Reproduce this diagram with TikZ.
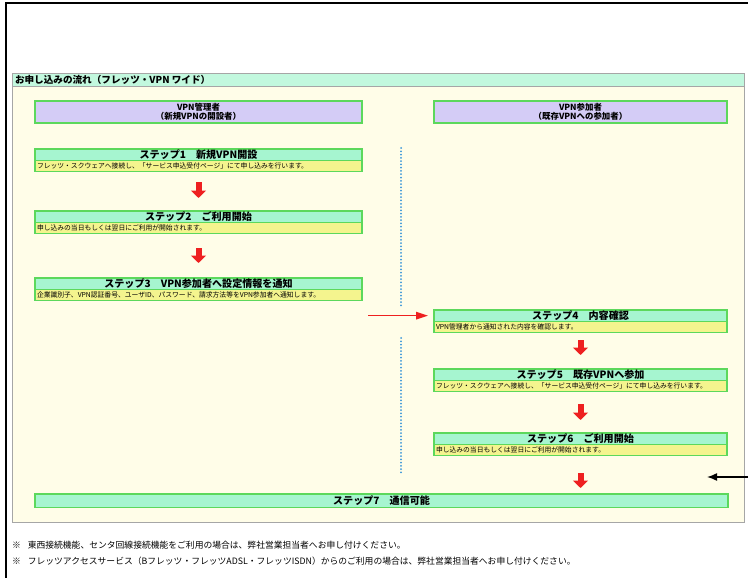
\documentclass[tikz,border=0pt]{standalone}
\usepackage{fontspec}
\setmainfont{Noto Sans CJK JP}
\usetikzlibrary{arrows.meta}
\usetikzlibrary{positioning}
\usetikzlibrary{calc}

\definecolor{mint}{HTML}{A6F5D0}
\definecolor{barmint}{HTML}{C2F8DE}
\definecolor{lemon}{HTML}{F4F48E}
\definecolor{cream}{HTML}{FFFDE8}
\definecolor{lilac}{HTML}{D4CCF6}
\definecolor{leaf}{HTML}{5CD85C}
\definecolor{flow}{HTML}{EE2020}
\definecolor{dotblue}{HTML}{3A96D8}

\begin{document}
\begin{tikzpicture}[x=0.3mm,y=-0.3mm,
  outer sep=0pt,
  head/.style={draw=leaf,line width=0.9pt,fill=lilac,minimum height=6.6mm,
    inner sep=0pt,align=center,font=\fontsize{7.2}{8}\selectfont\bfseries},
  lhead/.style={head,minimum width=98.1mm},
  rhead/.style={head,minimum width=87.9mm},
  stepbox/.style={draw=leaf,line width=0.9pt,fill=mint,minimum height=3.4mm,
    inner sep=0pt,font=\fontsize{8.6}{9}\selectfont\bfseries},
  descbox/.style={draw=leaf,line width=0.9pt,fill=lemon,minimum height=3.3mm,
    inner ysep=0pt,inner xsep=0.6mm,align=left,
    font=\fontsize{5.8}{6.4}\selectfont},
  lstep/.style={stepbox,minimum width=98.1mm},
  rstep/.style={stepbox,minimum width=87.9mm},
  ldesc/.style={descbox,text width=96.9mm},
  rdesc/.style={descbox,text width=86.7mm},
  fat/.style={flow,line width=1.8mm,-{Triangle[length=2.2mm,width=4.4mm]}},
  thin/.style={flow,line width=0.5mm,-{Triangle[length=3.6mm,width=2.2mm]}},
  note/.style={anchor=west,inner sep=0pt,font=\fontsize{7.5}{8}\selectfont}]

\useasboundingbox (0,0) rectangle (748,578);
\fill[white] (0,0) rectangle (748,578);
\draw[line width=0.6mm] (6,578) -- (6,3) -- (748,3);
\draw[gray!70,fill=cream] (12,86) rectangle (744,522);
\draw[gray!70,fill=barmint] (12,73) rectangle (744,86);
\node[anchor=west,inner sep=0pt,font=\fontsize{8.2}{9}\selectfont\bfseries]
  (flowtitle) at (15,79.5) {お申し込みの流れ（フレッツ・VPN ワイド）};

\node[lhead,anchor=north west] (adm) at (35,101) {VPN管理者\\（新規VPNの開設者）};
\node[rhead,anchor=north west] (par) at (434,101) {VPN参加者\\（既存VPNへの参加者）};

\node[lstep,anchor=north west] (s1) at (35,149) {ステップ1　新規VPN開設};
\node[ldesc,below=0pt of s1] (s1d) {フレッツ・スクウェアへ接続し、「サービス申込受付ページ」にて申し込みを行います。};
\node[lstep,anchor=north west] (s2) at (35,211) {ステップ2　ご利用開始};
\node[ldesc,below=0pt of s2] (s2d) {申し込みの当日もしくは翌日にご利用が開始されます。};
\node[lstep,anchor=north west] (s3) at (35,278) {ステップ3　VPN参加者へ設定情報を通知};
\node[ldesc,below=0pt of s3] (s3d) {企業識別子、VPN認証番号、ユーザID、パスワード、請求方法等をVPN参加者へ通知します。};

\node[rstep,anchor=north west] (s4) at (434,310) {ステップ4　内容確認};
\node[rdesc,below=0pt of s4] (s4d) {VPN管理者から通知された内容を確認します。};
\node[rstep,anchor=north west] (s5) at (434,369) {ステップ5　既存VPNへ参加};
\node[rdesc,below=0pt of s5] (s5d) {フレッツ・スクウェアへ接続し、「サービス申込受付ページ」にて申し込みを行います。};
\node[rstep,anchor=north west] (s6) at (434,433) {ステップ6　ご利用開始};
\node[rdesc,below=0pt of s6] (s6d) {申し込みの当日もしくは翌日にご利用が開始されます。};

\node[stepbox,minimum width=207.9mm,minimum height=4mm,anchor=north west]
  (s7) at (35,494) {ステップ7　通信可能};

\draw[dotblue,line width=0.6mm,line cap=round,dash pattern=on 0pt off 2.8pt]
  (401,148) -- (401,306) (401,338) -- (401,474);

\draw[fat,shorten <=3.3mm,shorten >=3.9mm] (s1d) -- (s2);
\draw[fat,shorten <=4.5mm,shorten >=4.5mm] (s2d) -- (s3);
\draw[thin,shorten <=1.8mm,shorten >=1.8mm] (s4.west -| s3.east) -- (s4.west);
\draw[fat,shorten <=2.4mm,shorten >=4.2mm] (s4d) -- (s5);
\draw[fat,shorten <=3.9mm,shorten >=3.9mm] (s5d) -- (s6);
\draw[fat,shorten <=5.4mm,shorten >=1.8mm] (s6d.south) -- (s6d.south |- s7.north);

\coordinate (tip) at (707,477);
\coordinate (tail) at (748,477);
\draw[line width=0.45mm,-{Latex[length=3mm,width=2.4mm]}] (tail) -- (tip);

\node[note] (note1) at (12,545) {※\hspace{0.8em}東西接続機能、センタ回線接続機能をご利用の場合は、弊社営業担当者へお申し付けください。};
\node[note] (note2) at (12,561) {※\hspace{0.8em}フレッツアクセスサービス（Bフレッツ・フレッツADSL・フレッツISDN）からのご利用の場合は、弊社営業担当者へお申し付けください。};
\end{tikzpicture}
\end{document}
